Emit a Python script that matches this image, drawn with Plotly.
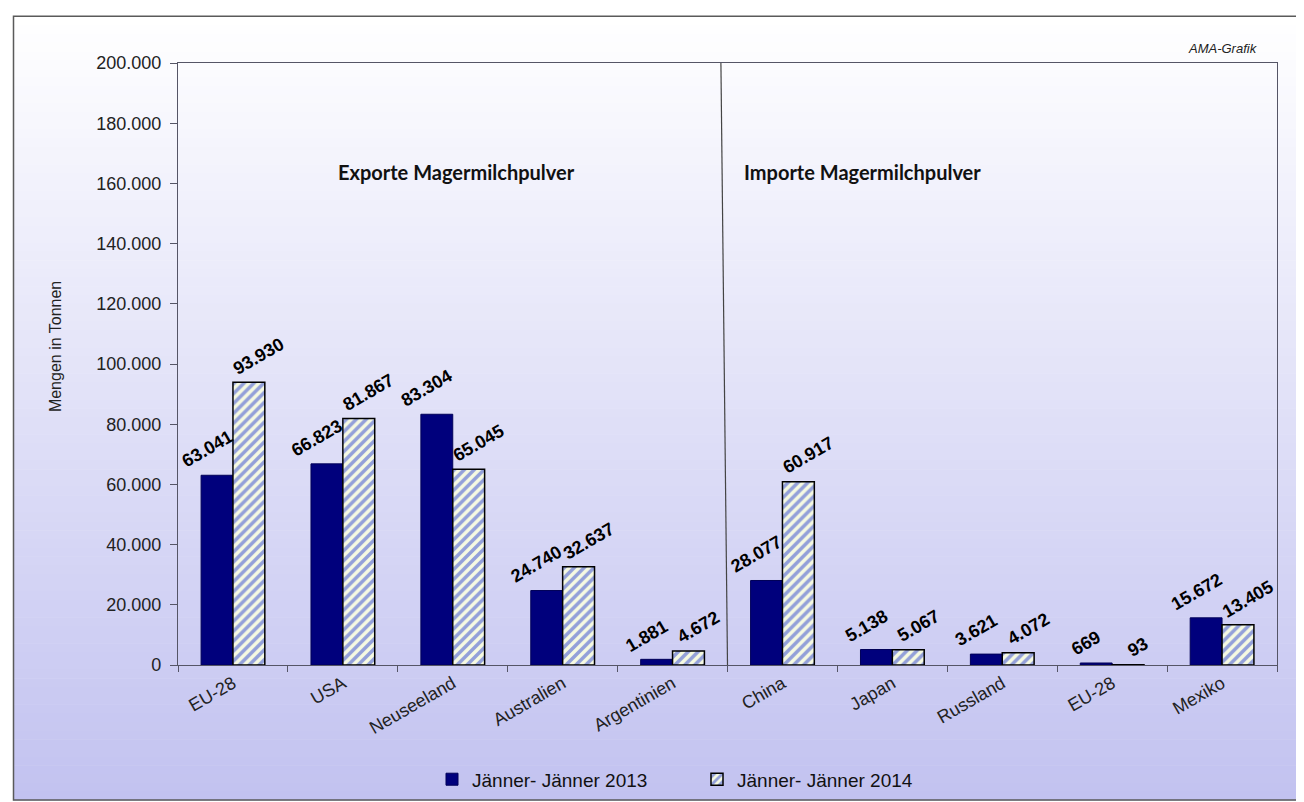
import plotly.graph_objects as go

categories = ["EU-28", "USA", "Neuseeland", "Australien", "Argentinien",
              "China", "Japan", "Russland", "EU-28", "Mexiko"]
values_2013 = [63041, 66823, 83304, 24740, 1881, 28077, 5138, 3621, 669, 15672]
values_2014 = [93930, 81867, 65045, 32637, 4672, 60917, 5067, 4072, 93, 13405]
series_names = ["Jänner- Jänner 2013", "Jänner- Jänner 2014"]
y_ticks = [0, 20000, 40000, 60000, 80000, 100000, 120000, 140000, 160000, 180000, 200000]

W, H = 1304, 802
L, R, T, B = 170, 35, 55, 141
PW, PH = W - L - R, H - T - B
BARGAP = 0.42

def px_x(px):
    return (px - L) / PW

def px_y(py):
    return (H - B - py) / PH

def fmt(v):
    return "{:,}".format(v).replace(",", ".")

x_pos = list(range(len(categories)))

fig = go.Figure()
fig.add_trace(go.Bar(
    x=x_pos, y=values_2013, name=series_names[0],
    marker=dict(color="#00007c", line=dict(color="#000058", width=1)),
))
fig.add_trace(go.Bar(
    x=x_pos, y=values_2014, name=series_names[1],
    marker=dict(color="#f6fae2", line=dict(color="#000000", width=1.5),
                pattern=dict(shape="/", fgcolor="#2f45d0", bgcolor="#f6fae2",
                             size=7, solidity=0.5)),
))

shapes = []
# gradient background
n = 90
top_px, bot_px = 8, 797
c0 = (255, 255, 255)
c1 = (194, 194, 240)
for i in range(n):
    y0 = top_px + (bot_px - top_px) * i / n
    y1 = top_px + (bot_px - top_px) * (i + 1) / n
    t = (i + 0.5) / n
    col = "rgb(%d,%d,%d)" % tuple(round(c0[k] + (c1[k] - c0[k]) * t) for k in range(3))
    shapes.append(dict(type="rect", xref="paper", yref="paper", layer="below",
                       x0=px_x(5), x1=px_x(1299), y0=px_y(y1 + 0.5), y1=px_y(y0),
                       fillcolor=col, line=dict(width=0)))
# outer frame
shapes.append(dict(type="rect", xref="paper", yref="paper", layer="above",
                   x0=px_x(5.5), x1=px_x(1299.5), y0=px_y(797), y1=px_y(8),
                   line=dict(color="#5a5a5a", width=1.5), fillcolor="rgba(0,0,0,0)"))
# divider between exports and imports
shapes.append(dict(type="line", xref="x", yref="paper",
                   x0=4.5, x1=4.44, y0=0, y1=1,
                   line=dict(color="#444444", width=1.2)))

annotations = [
    dict(text="<b>Exporte Magermilchpulver</b>", x=px_x(448), y=px_y(165),
         xref="paper", yref="paper", showarrow=False, xanchor="center", yanchor="middle",
         font=dict(family="Lato", size=20, color="#111111")),
    dict(text="<b>Importe Magermilchpulver</b>", x=px_x(854), y=px_y(165),
         xref="paper", yref="paper", showarrow=False, xanchor="center", yanchor="middle",
         font=dict(family="Lato", size=20, color="#111111")),
    dict(text="<i>AMA-Grafik</i>", x=px_x(1252), y=px_y(40),
         xref="paper", yref="paper", showarrow=False, xanchor="right", yanchor="middle",
         font=dict(family="Liberation Sans", size=13, color="#222222")),
    dict(text="Mengen in Tonnen", x=px_x(47), y=px_y(340),
         xref="paper", yref="paper", showarrow=False, textangle=-90,
         xanchor="center", yanchor="middle",
         font=dict(family="Liberation Sans", size=16, color="#222222")),
]

# value labels (on top of all bars)
half = (1 - BARGAP) / 4
label_font = dict(family="Liberation Sans", size=18, color="#000000", weight="bold")
for xi, v in zip(x_pos, values_2013):
    annotations.append(dict(text=fmt(v), x=xi - half, y=v, xref="x", yref="y",
                            showarrow=False, textangle=-30, xanchor="center",
                            yanchor="bottom", xshift=-10, yshift=1, font=label_font))
for xi, v in zip(x_pos, values_2014):
    annotations.append(dict(text=fmt(v), x=xi + half, y=v, xref="x", yref="y",
                            showarrow=False, textangle=-30, xanchor="center",
                            yanchor="bottom", xshift=10, yshift=1, font=label_font))

fig.update_layout(
    width=W, height=H,
    margin=dict(l=L, r=R, t=T, b=B),
    paper_bgcolor="#ffffff", plot_bgcolor="rgba(0,0,0,0)",
    separators=",.",
    barmode="group", bargap=BARGAP, bargroupgap=0.0,
    shapes=shapes, annotations=annotations,
    font=dict(family="Liberation Sans", color="#222222"),
    legend=dict(orientation="h", x=px_x(424), y=px_y(757), xanchor="left", yanchor="top",
                bgcolor="rgba(0,0,0,0)", entrywidth=220, entrywidthmode="pixels",
                font=dict(family="Liberation Sans", size=19, color="#111111"),
                traceorder="normal"),
    xaxis=dict(range=[-0.5, 9.5], tickmode="array", tickvals=x_pos, ticktext=categories,
               tickangle=-30, ticks="", showgrid=False, zeroline=False,
               showline=True, linecolor="#555566", linewidth=1.2, mirror=True,
               tickfont=dict(family="Liberation Sans", size=18, color="#222222"),
               minor=dict(ticks="outside", tick0=-0.5, dtick=1, ticklen=6,
                          tickcolor="#555566", showgrid=False)),
    yaxis=dict(range=[0, 200000], tickmode="array", tickvals=y_ticks,
               tickformat=",d", ticks="outside", ticklen=7, tickcolor="#555566",
               ticklabelstandoff=5,
               showgrid=False, zeroline=False,
               showline=True, linecolor="#555566", linewidth=1.2, mirror=True,
               tickfont=dict(family="Liberation Sans", size=18, color="#222222")),
)

fig.write_html("out.html")
